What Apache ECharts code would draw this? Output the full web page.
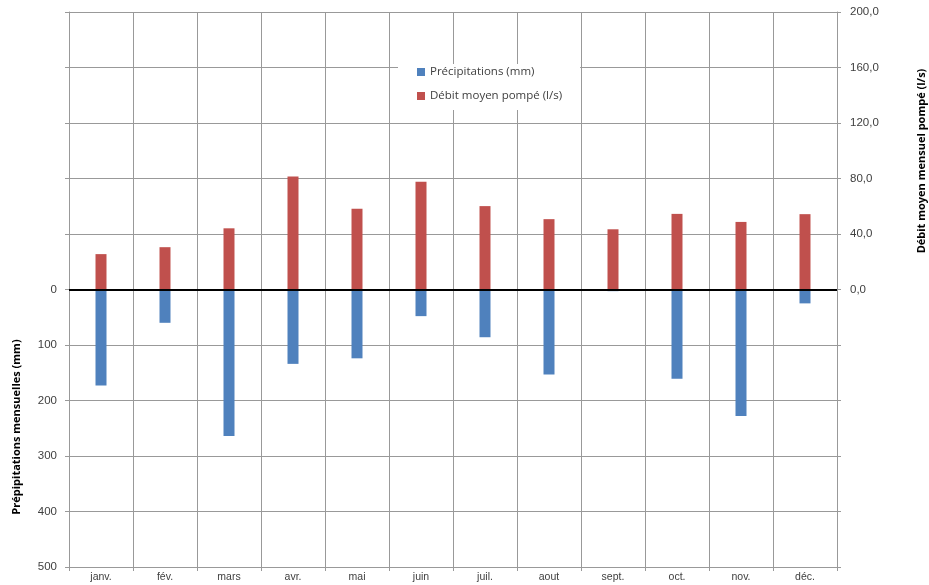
<!DOCTYPE html>
<html>
<head>
<meta charset="utf-8">
<script src="https://cdn.jsdelivr.net/npm/echarts@6/dist/echarts.min.js"></script>
<style>
  html, body { margin: 0; padding: 0; background: #fff; }
  #chart { width: 929px; height: 585px; }
</style>
</head>
<body>
<div id="chart"></div>
<script>
// mois
var mois = ["janv.", "fév.", "mars", "avr.", "mai", "juin", "juil.", "aout", "sept.", "oct.", "nov.", "déc."];
// précipitations mensuelles (mm) - axe de gauche, inversé
var precipitations = [173, 60, 264, 134, 124, 48, 86, 153, 3, 161, 228, 25];
// débit moyen mensuel pompé (l/s) - axe de droite
var debit = [25.5, 30.5, 44.1, 81.5, 58.2, 77.6, 60.1, 50.7, 43.4, 54.5, 48.7, 54.3];

var grille = "#999999";
var texte = "#404040";

var chart = echarts.init(document.getElementById("chart"));

var option = {
  animation: false,
  textStyle: { fontFamily: "Open Sans" },
  grid: { left: 69, right: 92, top: 12, bottom: 18 },
  legend: {
    orient: "vertical",
    left: 398,
    top: 64,
    padding: [2, 18, 8, 19],
    backgroundColor: "#fff",
    itemWidth: 8,
    itemHeight: 8,
    itemGap: 12,
    icon: "rect",
    textStyle: { color: texte, fontSize: 11.5, fontFamily: "Open Sans" },
    data: ["Précipitations (mm)", "Débit moyen pompé (l/s)"]
  },
  xAxis: {
    type: "category",
    data: mois,
    axisLine: { show: true, onZero: false, lineStyle: { color: grille } },
    axisTick: { show: true, length: 4, lineStyle: { color: grille } },
    splitLine: { show: true, interval: 0, lineStyle: { color: grille } },
    axisLabel: { color: texte, fontSize: 10.5, fontFamily: "Liberation Sans", margin: 5, interval: 0 }
  },
  yAxis: [
    {
      type: "value",
      inverse: true,
      min: -500,
      max: 500,
      interval: 100,
      axisLine: { show: true, lineStyle: { color: grille } },
      axisTick: { show: true, length: 4, lineStyle: { color: grille } },
      splitLine: { show: true, lineStyle: { color: grille } },
      axisLabel: {
        color: texte,
        fontSize: 11.5,
        fontFamily: "Liberation Sans",
        margin: 12,
        formatter: function (v) { return v >= 0 ? String(v) : ""; }
      }
    },
    {
      type: "value",
      min: -200,
      max: 200,
      interval: 40,
      axisLine: { show: true, lineStyle: { color: grille } },
      axisTick: { show: true, length: 4, lineStyle: { color: grille } },
      splitLine: { show: false },
      axisLabel: {
        color: texte,
        fontSize: 11.5,
        fontFamily: "Liberation Sans",
        margin: 13,
        formatter: function (v) { return v >= 0 ? v.toFixed(1).replace(".", ",") : ""; }
      }
    }
  ],
  graphic: [
    {
      type: "text",
      x: 17,
      y: 427,
      rotation: Math.PI / 2,
      style: {
        text: "Prépipitations mensuelles (mm)",
        fill: "#000",
        font: "bold 11px 'Open Sans'",
        textAlign: "center",
        textVerticalAlign: "middle",
        align: "center",
        verticalAlign: "middle"
      }
    },
    {
      type: "text",
      x: 922,
      y: 161,
      rotation: Math.PI / 2,
      style: {
        text: "Débit moyen mensuel pompé (l/s)",
        fill: "#000",
        font: "bold 11px 'Open Sans'",
        textAlign: "center",
        textVerticalAlign: "middle",
        align: "center",
        verticalAlign: "middle"
      }
    }
  ],
  series: [
    {
      name: "Précipitations (mm)",
      type: "bar",
      yAxisIndex: 0,
      data: precipitations,
      barWidth: 11,
      barGap: "-100%",
      itemStyle: { color: "#4f81bd" }
    },
    {
      name: "Débit moyen pompé (l/s)",
      type: "bar",
      yAxisIndex: 1,
      data: debit,
      barWidth: 11,
      barGap: "-100%",
      itemStyle: { color: "#c0504d" },
      markLine: {
        silent: true,
        symbol: "none",
        label: { show: false },
        lineStyle: { color: "#000", width: 2, type: "solid" },
        data: [{ yAxis: 0 }]
      }
    }
  ]
};

chart.setOption(option);
</script>
</body>
</html>
